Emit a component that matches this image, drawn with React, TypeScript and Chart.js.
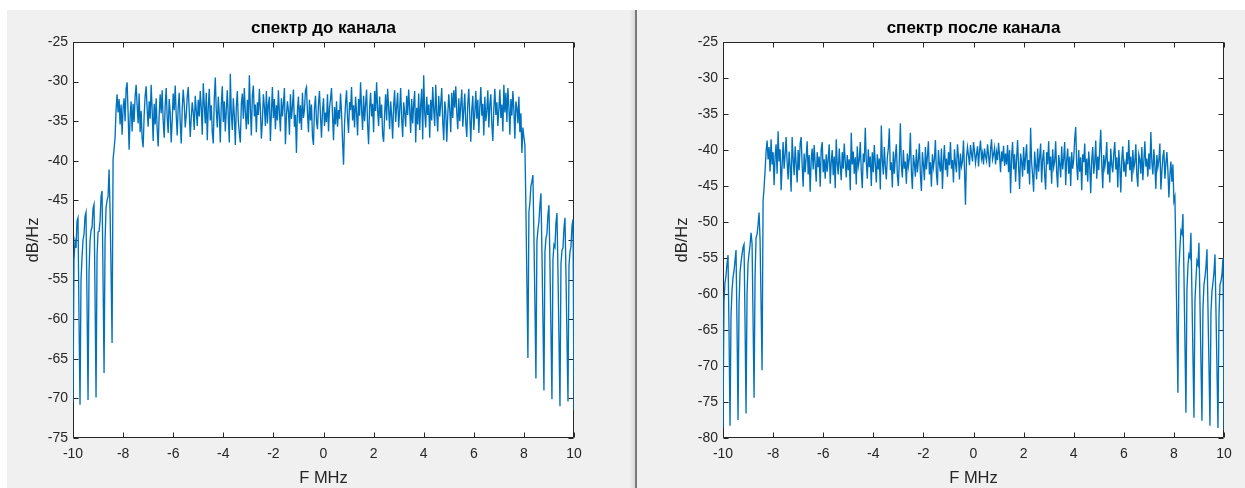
import React, { useEffect, useRef } from "react";
import { Chart, registerables } from "chart.js";

Chart.register(...registerables);

// ---------- data ----------
const FREQ_START_MHZ = -10;
const FREQ_STEP_MHZ = 0.04;

const X_TICKS = [-10, -8, -6, -4, -2, 0, 2, 4, 6, 8, 10];
const Y_TICKS_BEFORE = [-75, -70, -65, -60, -55, -50, -45, -40, -35, -30, -25];
const Y_TICKS_AFTER = [-80, -75, -70, -65, -60, -55, -50, -45, -40, -35, -30, -25];

const TITLE_BEFORE = "спектр до канала";
const TITLE_AFTER = "спектр после канала";
const X_LABEL = "F MHz";
const Y_LABEL = "dB/Hz";

// spectrum before the channel (dB/Hz), -10 .. -8.32 MHz
const beforeLowStop = [
  -70.4, -52.5, -50.2, -51.0, -47.6, -47.2, -60.0, -70.8,
  -55.0, -52.2, -50.0, -49.3, -47.0, -46.5, -58.0, -70.2,
  -54.0, -50.1, -48.8, -48.4, -46.0, -45.5, -57.0, -69.9,
  -52.0, -49.0, -48.9, -47.6, -44.5, -43.8, -55.0, -66.8,
  -50.0, -45.9, -45.0, -44.5, -41.1, -46.3, -54.0, -63.0,
  -39.8, -38.5, -37.0,
];
// -8.28 .. 8.00 MHz
const beforePass = [
  -33.5, -31.6, -33.9, -32.2, -35.4, -32.9, -36.7, -33.3, -32.1, -35.0, -30.9, -30.1, -34.0, -38.6, -34.4, -32.5, -36.3, -32.8, -35.1, -31.9,
  -30.4, -33.0, -35.3, -31.5, -36.4, -33.7, -37.2, -38.3, -34.3, -31.8, -30.6, -33.5, -35.7, -32.5, -34.7, -30.4, -33.6, -37.5, -32.8, -35.4,
  -32.1, -36.0, -38.2, -34.2, -31.6, -34.0, -31.1, -35.0, -37.1, -33.0, -30.8, -34.6, -36.5, -32.2, -33.9, -37.7, -34.9, -31.5, -33.6, -30.5,
  -34.2, -36.8, -33.2, -31.4, -35.1, -37.8, -33.5, -31.0, -32.8, -35.8, -34.3, -31.9, -30.7, -33.7, -37.0, -34.6, -32.6, -33.9, -36.1, -31.8,
  -33.6, -35.6, -32.3, -34.4, -31.2, -33.3, -36.7, -30.2, -32.9, -35.3, -31.4, -37.4, -33.2, -30.9, -34.9, -33.0, -36.4, -37.8, -32.2, -29.5,
  -33.7, -35.8, -31.9, -34.2, -37.7, -32.9, -30.6, -35.1, -32.5, -36.3, -33.6, -31.1, -34.6, -37.7, -29.0, -34.0, -36.1, -32.1, -34.3, -38.0,
  -33.2, -31.2, -35.0, -36.5, -37.7, -32.8, -31.5, -34.7, -30.8, -33.9, -36.0, -32.3, -35.4, -29.2, -33.3, -36.8, -31.8, -30.5, -34.4, -32.9,
  -36.4, -32.6, -34.2, -30.9, -33.5, -37.2, -35.0, -31.6, -33.2, -35.6, -31.2, -35.3, -32.9, -31.9, -37.5, -33.9, -30.7, -34.6, -32.2, -36.0,
  -33.0, -34.9, -31.1, -34.0, -36.3, -32.1, -34.4, -32.8, -30.8, -37.9, -34.3, -32.5, -33.7, -36.7, -31.6, -34.7, -33.2, -31.0, -35.7, -34.2,
  -39.0, -33.6, -31.9, -35.3, -33.0, -36.1, -31.4, -34.6, -33.5, -31.1, -30.7, -34.0, -36.4, -32.3, -34.9, -32.9, -37.0, -38.0, -33.3, -31.8,
  -35.0, -36.0, -32.8, -31.2, -34.4, -37.1, -33.7, -32.1, -35.6, -33.9, -35.1, -31.6, -36.3, -33.3, -32.2, -30.8, -34.2, -37.4, -33.2, -35.4,
  -32.5, -35.7, -33.6, -34.7, -31.5, -34.0, -37.5, -40.5, -35.3, -32.8, -31.1, -34.6, -36.5, -32.6, -33.6, -30.7, -34.9, -33.0, -35.8, -31.9,
  -33.9, -36.8, -32.2, -34.3, -30.1, -33.5, -36.1, -31.8, -35.0, -32.9, -31.0, -35.4, -37.9, -33.3, -31.4, -34.4, -32.8, -36.4, -31.2, -33.7,
  -30.1, -33.6, -35.6, -31.9, -34.6, -32.9, -36.7, -37.6, -34.0, -31.6, -34.9, -30.9, -33.3, -36.0, -32.5, -34.3, -37.2, -33.0, -31.1, -35.1,
  -33.2, -31.4, -35.8, -33.7, -30.8, -34.7, -37.0, -32.6, -33.9, -35.7, -31.8, -34.2, -31.0, -33.5, -36.5, -32.2, -35.3, -32.8, -31.2, -37.7,
  -33.3, -35.4, -31.5, -36.1, -33.0, -30.9, -37.3, -29.2, -33.9, -35.8, -31.9, -34.2, -32.9, -37.1, -32.3, -34.9, -30.7, -33.6, -35.6, -30.4,
  -34.0, -36.3, -31.8, -34.4, -32.8, -30.8, -35.1, -37.4, -32.5, -33.7, -37.6, -34.3, -31.6, -33.5, -36.4, -31.4, -34.6, -31.1, -33.3, -30.6,
  -33.9, -36.0, -32.1, -35.0, -33.0, -31.0, -35.7, -33.6, -31.5, -35.3, -37.0, -32.8, -30.9, -34.4, -37.6, -33.5, -31.8, -36.1, -34.0, -31.2,
  -34.7, -32.3, -36.5, -33.2, -30.7, -34.3, -32.8, -36.8, -31.9, -35.0, -33.7, -31.1, -35.8, -32.9, -31.6, -35.4, -37.5, -33.3, -30.9, -34.2,
  -32.6, -35.6, -33.5, -31.0, -34.6, -32.9, -36.3, -30.4, -33.9, -31.4, -35.1, -30.8, -33.2, -36.7, -32.2, -34.3, -31.2, -33.6, -37.2, -32.5,
  -33.3, -35.3, -31.9, -36.4, -34.0, -39.0, -35.8, -37.0,
];
// 8.04 .. 10 MHz
const beforeHighStop = [
  -38.0, -46.0, -55.5, -64.9,
  -46.5, -45.3, -43.2, -42.6, -41.8, -49.5, -58.0, -67.5,
  -50.2, -48.7, -47.7, -45.6, -44.1, -51.5, -60.0, -69.0,
  -51.5, -49.8, -49.2, -46.8, -45.6, -53.0, -61.5, -70.1,
  -52.5, -50.6, -50.9, -47.8, -46.6, -54.0, -62.5, -71.0,
  -53.0, -51.3, -51.0, -48.5, -47.2, -54.5, -62.5, -70.4,
  -53.2, -51.5, -50.8, -48.2, -47.4, -71.5,
];

// spectrum after the channel (dB/Hz)
const afterLowStop = [
  -78.6, -61.0, -58.4, -57.5, -55.8, -54.6, -65.0, -78.3,
  -63.0, -59.5, -57.7, -56.8, -55.3, -53.9, -64.5, -77.5,
  -61.5, -57.0, -55.6, -54.5, -53.5, -53.1, -64.0, -76.6,
  -60.0, -55.8, -54.4, -53.2, -51.5, -53.0, -63.5, -74.4,
  -57.5, -52.2, -51.7, -50.4, -48.7, -52.5, -61.5, -70.6,
  -47.1, -45.2, -42.9,
];
const afterPass = [
  -40.2, -38.7, -41.3, -39.6, -43.0, -38.5, -42.0, -40.3, -44.9, -40.9, -39.2, -43.3, -37.4, -41.6, -39.9, -45.6, -42.1, -38.9, -42.6, -40.6,
  -38.2, -41.7, -44.1, -40.2, -42.3, -45.8, -38.2, -41.2, -43.5, -39.5, -41.9, -44.5, -40.0, -42.8, -39.1, -38.2, -42.1, -45.1, -40.5, -43.1,
  -41.0, -38.8, -43.4, -40.7, -45.8, -41.4, -39.8, -42.7, -39.3, -42.0, -44.4, -40.3, -42.4, -40.9, -45.1, -39.9, -38.9, -43.1, -41.3, -44.0,
  -40.6, -43.0, -41.2, -39.2, -44.7, -41.7, -40.0, -43.5, -40.9, -45.3, -38.5, -41.9, -43.4, -39.8, -42.1, -44.2, -40.3, -42.6, -39.1, -41.6,
  -43.8, -40.7, -42.8, -41.3, -45.6, -37.6, -42.0, -40.2, -43.3, -41.0, -44.8, -39.5, -42.3, -41.4, -38.9, -43.0, -45.3, -40.5, -41.7, -36.9,
  -41.6, -44.0, -39.9, -42.4, -40.9, -45.0, -40.3, -43.1, -39.3, -41.9, -44.5, -40.6, -42.7, -41.2, -45.5, -36.6, -41.4, -43.4, -39.6, -42.3,
  -44.1, -41.0, -39.8, -37.0, -42.8, -41.7, -45.2, -40.2, -43.3, -40.9, -39.2, -43.5, -45.0, -41.3, -36.3, -42.1, -43.8, -40.0, -42.6, -41.6,
  -44.7, -40.5, -42.3, -41.2, -37.6, -43.0, -45.4, -40.7, -41.9, -43.7, -39.9, -43.1, -41.4, -39.1, -43.5, -45.7, -40.3, -42.0, -44.2, -39.6,
  -42.7, -40.9, -38.8, -43.4, -41.7, -45.1, -40.6, -42.4, -41.3, -38.6, -43.3, -44.9, -40.0, -42.0, -43.0, -39.8, -45.4, -41.6, -39.3, -42.8,
  -41.2, -43.7, -40.3, -42.1, -38.9, -42.6, -41.4, -44.5, -39.9, -41.9, -43.1, -39.2, -41.0, -44.1, -40.5, -42.3, -41.6, -38.7, -42.7, -47.6,
  -41.0, -39.6, -40.8, -42.1, -39.3, -40.5, -41.6, -38.9, -40.2, -41.8, -40.6, -39.5, -42.3, -40.1, -38.7, -41.2, -40.4, -42.0, -39.8, -40.9,
  -41.5, -39.2, -40.7, -42.4, -40.0, -38.5, -41.3, -40.6, -39.7, -42.0, -40.3, -41.4, -39.0, -40.8, -43.1, -40.2, -41.6, -39.4, -42.2, -40.5,
  -42.0, -39.3, -43.1, -40.0, -46.0, -41.0, -38.9, -42.7, -40.6, -44.4, -41.2, -38.6, -42.3, -45.4, -40.5, -41.6, -43.7, -39.6, -42.8, -40.9,
  -39.2, -43.3, -41.4, -44.8, -36.9, -41.7, -43.5, -45.8, -40.2, -42.1, -44.1, -39.8, -43.0, -41.0, -39.1, -44.5, -41.3, -40.0, -43.4, -45.5,
  -40.3, -42.0, -38.8, -42.8, -40.9, -44.7, -39.9, -42.4, -41.6, -38.8, -43.1, -45.2, -40.7, -41.9, -43.8, -39.5, -42.7, -41.2, -38.9, -44.9,
  -41.4, -39.8, -43.3, -40.9, -45.0, -40.3, -42.6, -41.3, -38.5, -36.8, -42.1, -44.2, -40.0, -43.0, -41.0, -45.6, -40.6, -41.7, -39.1, -43.5,
  -41.2, -44.4, -40.2, -42.3, -46.0, -41.4, -39.6, -43.3, -41.7, -38.7, -44.0, -40.9, -42.8, -39.9, -37.2, -42.0, -45.3, -40.7, -42.4, -41.3,
  -38.9, -43.4, -41.6, -44.5, -39.8, -42.1, -43.1, -40.5, -38.9, -42.7, -41.0, -45.2, -40.0, -42.3, -45.9, -41.2, -39.5, -43.0, -41.9, -43.7,
  -40.3, -42.0, -38.6, -42.8, -40.9, -44.4, -40.0, -42.6, -41.7, -39.2, -43.5, -45.1, -40.6, -41.3, -43.3, -39.6, -44.2, -41.6, -38.8, -42.3,
  -41.2, -43.7, -40.5, -42.7, -37.5, -41.7, -43.4, -39.9, -42.1, -45.4, -40.7, -42.4, -41.4, -39.1, -45.5, -43.0, -40.9, -40.0, -44.0, -41.9,
  -40.3, -42.8, -46.6, -43.5, -41.6, -44.4, -42.0, -47.1,
];
const afterHighStop = [
  -46.5, -55.0, -64.5, -73.7,
  -56.5, -53.6, -51.2, -51.6, -48.9, -57.0, -66.5, -76.5,
  -59.5, -56.1, -54.5, -54.9, -51.5, -60.0, -68.5, -77.2,
  -61.0, -58.0, -55.4, -55.9, -52.9, -61.0, -69.5, -77.6,
  -62.0, -58.7, -57.7, -56.2, -53.8, -62.0, -70.0, -78.3,
  -62.5, -59.6, -58.4, -57.0, -54.5, -62.5, -70.5, -78.6,
  -63.0, -58.7, -58.2, -57.2, -55.0, -78.9,
];

const dbBefore = [...beforeLowStop, ...beforePass, ...beforeHighStop];
const dbAfter = [...afterLowStop, ...afterPass, ...afterHighStop];

// ---------- styling ----------
const FONT = "'Liberation Sans', Arial, Helvetica, sans-serif";
const AXIS_COLOR = "#262626";
const LINE_COLOR = "#0072BD";

Chart.defaults.font.family = FONT;

const matlabAxes = {
  id: "matlabAxes",
  beforeDatasetsDraw(chart: any) {
    const { ctx, chartArea: a, scales } = chart;
    const l = Math.round(a.left) + 0.5;
    const r = Math.round(a.right) - 0.5;
    const t = Math.round(a.top) + 0.5;
    const b = Math.round(a.bottom) - 0.5;
    ctx.save();
    ctx.fillStyle = "#ffffff";
    ctx.fillRect(l, t, r - l, b - t);
    ctx.strokeStyle = AXIS_COLOR;
    ctx.lineWidth = 1;
    ctx.beginPath();
    ctx.rect(l, t, r - l, b - t);
    const tl = 5;
    for (const tk of scales.x.ticks) {
      const px = Math.round(scales.x.getPixelForValue(tk.value)) + 0.5;
      ctx.moveTo(px, b);
      ctx.lineTo(px, b - tl);
      ctx.moveTo(px, t);
      ctx.lineTo(px, t + tl);
    }
    for (const tk of scales.y.ticks) {
      const py = Math.round(scales.y.getPixelForValue(tk.value)) + 0.5;
      ctx.moveTo(l, py);
      ctx.lineTo(l + tl, py);
      ctx.moveTo(r, py);
      ctx.lineTo(r - tl, py);
    }
    ctx.stroke();
    ctx.restore();
  },
};

type Props = {
  width: number;
  height: number;
  title: string;
  values: number[];
  yTicks: number[];
  yAxisWidth: number;
  yTitlePad: number;
  padRight: number;
};

function SpectrumChart(props: Props) {
  const ref = useRef<HTMLCanvasElement>(null);
  useEffect(() => {
    const canvas = ref.current;
    if (!canvas) return;
    const { title, values, yTicks, yAxisWidth, yTitlePad, padRight } = props;
    const points = values.map((v, i) => ({
      x: FREQ_START_MHZ + i * FREQ_STEP_MHZ,
      y: v,
    }));
    const chart = new Chart(canvas, {
      type: "line",
      data: {
        datasets: [
          {
            data: points,
            borderColor: LINE_COLOR,
            borderWidth: 1.35,
            pointRadius: 0,
            tension: 0,
            fill: false,
          },
        ],
      },
      options: {
        responsive: false,
        animation: false,
        events: [],
        layout: { padding: { left: 0, right: padRight, top: 0, bottom: 0 } },
        plugins: {
          legend: { display: false },
          tooltip: { enabled: false },
          title: {
            display: true,
            text: title,
            fullSize: false,
            color: "#000000",
            font: { family: FONT, size: 17, weight: "bold", lineHeight: 1.2 },
            padding: { top: 8, bottom: 3.6 },
          },
        },
        scales: {
          x: {
            type: "linear",
            min: X_TICKS[0],
            max: X_TICKS[X_TICKS.length - 1],
            afterBuildTicks: (s: any) => {
              s.ticks = X_TICKS.map((v) => ({ value: v }));
            },
            afterFit: (s: any) => {
              s.height = 50;
            },
            grid: { display: false, drawTicks: false },
            border: { display: false },
            ticks: {
              color: AXIS_COLOR,
              padding: 8,
              maxRotation: 0,
              autoSkip: false,
              font: { family: FONT, size: 14 },
              callback: (v: any) => String(v),
            },
            title: {
              display: true,
              text: X_LABEL,
              color: AXIS_COLOR,
              font: { family: FONT, size: 16.5, lineHeight: 1.2 },
              padding: { top: 0, bottom: 0.1 },
            },
          },
          y: {
            type: "linear",
            min: yTicks[0],
            max: yTicks[yTicks.length - 1],
            afterBuildTicks: (s: any) => {
              s.ticks = yTicks.map((v) => ({ value: v }));
            },
            afterFit: (s: any) => {
              s.width = yAxisWidth;
            },
            grid: { display: false, drawTicks: false },
            border: { display: false },
            ticks: {
              color: AXIS_COLOR,
              padding: 5,
              autoSkip: false,
              font: { family: FONT, size: 14 },
              callback: (v: any) => String(v),
            },
            title: {
              display: true,
              text: Y_LABEL,
              color: AXIS_COLOR,
              font: { family: FONT, size: 16.5, lineHeight: 1.2 },
              padding: { top: yTitlePad, bottom: 0 },
            },
          },
        },
      },
      plugins: [matlabAxes],
    } as any);
    return () => chart.destroy();
  }, []);
  return (
    <canvas
      ref={ref}
      width={props.width}
      height={props.height}
      style={{ display: "block", width: props.width, height: props.height }}
    />
  );
}

export default function App() {
  return (
    <div
      style={{
        position: "fixed",
        left: 0,
        top: 0,
        width: 1245,
        height: 488,
        background: "#ffffff",
        overflow: "hidden",
      }}
    >
      <div
        style={{
          position: "absolute",
          left: 7,
          top: 10,
          width: 628,
          height: 478,
          background: "#f0f0f0",
        }}
      >
        <SpectrumChart
          width={628}
          height={478}
          title={TITLE_BEFORE}
          values={dbBefore}
          yTicks={Y_TICKS_BEFORE}
          yAxisWidth={66}
          yTitlePad={16.1}
          padRight={61}
        />
      </div>
      <div
        style={{
          position: "absolute",
          left: 629,
          top: 10,
          width: 6,
          height: 478,
          background: "linear-gradient(to right, #f0f0f0, #dadada)",
        }}
      />
      <div
        style={{
          position: "absolute",
          left: 635,
          top: 10,
          width: 2,
          height: 478,
          background: "#7a7a7a",
        }}
      />
      <div
        style={{
          position: "absolute",
          left: 637,
          top: 10,
          width: 608,
          height: 478,
          background: "#f0f0f0",
        }}
      >
        <SpectrumChart
          width={608}
          height={478}
          title={TITLE_AFTER}
          values={dbAfter}
          yTicks={Y_TICKS_AFTER}
          yAxisWidth={86}
          yTitlePad={35.1}
          padRight={21}
        />
      </div>
    </div>
  );
}
